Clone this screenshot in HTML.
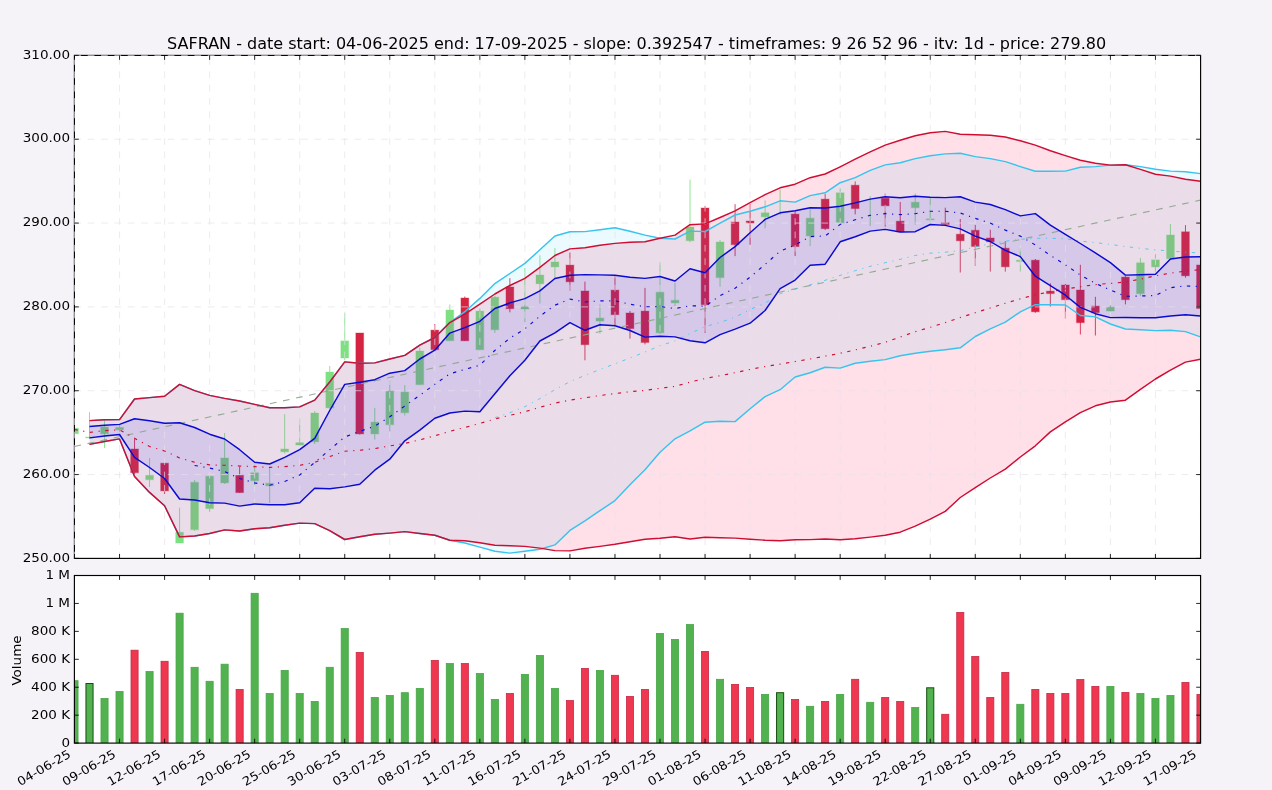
<!DOCTYPE html>
<html lang="en"><head><meta charset="utf-8"><title>SAFRAN chart</title>
<style>html,body{margin:0;padding:0;background:#f5f3f7;}body{width:1272px;height:790px;overflow:hidden;}svg{display:block;}text{font-family:"DejaVu Sans", "Liberation Sans", sans-serif;fill:#000;}</style></head><body>
<svg width="1272" height="790" viewBox="0 0 1272 790">
<rect x="0" y="0" width="1272" height="790" fill="#f5f3f7"/>
<defs><clipPath id="cm"><rect x="74.4" y="55.4" width="1126.2" height="503"/></clipPath>
<clipPath id="cv"><rect x="74.4" y="575.5" width="1126.2" height="167.6"/></clipPath></defs>
<rect x="74.4" y="55.4" width="1126.2" height="503" fill="#fff"/>
<rect x="74.4" y="575.5" width="1126.2" height="167.6" fill="#fff"/>
<g clip-path="url(#cm)">
<g>
<line x1="74.5" y1="426" x2="74.5" y2="436" stroke="#7de182" stroke-width="0.85"/>
<rect x="70.6" y="428.2" width="7.8" height="5.5" fill="#7de182" stroke="#7de182" stroke-width="1.2" stroke-opacity="0.3"/>
<line x1="89.51" y1="412.1" x2="89.51" y2="439" stroke="#7de182" stroke-width="0.85"/>
<rect x="85.61" y="437" width="7.8" height="0.9" fill="#7de182" stroke="#7de182" stroke-width="1.2" stroke-opacity="0.3"/>
<line x1="104.53" y1="420" x2="104.53" y2="448" stroke="#7de182" stroke-width="0.85"/>
<rect x="100.63" y="427" width="7.8" height="6.8" fill="#7de182" stroke="#7de182" stroke-width="1.2" stroke-opacity="0.3"/>
<line x1="119.54" y1="424" x2="119.54" y2="436" stroke="#7de182" stroke-width="0.85"/>
<rect x="115.64" y="427.4" width="7.8" height="2.4" fill="#7de182" stroke="#7de182" stroke-width="1.2" stroke-opacity="0.3"/>
<line x1="134.55" y1="439" x2="134.55" y2="474" stroke="#d52342" stroke-width="0.85"/>
<rect x="130.65" y="449" width="7.8" height="23.7" fill="#d52342" stroke="#d52342" stroke-width="1.2" stroke-opacity="0.3"/>
<line x1="149.56" y1="458" x2="149.56" y2="487" stroke="#7de182" stroke-width="0.85"/>
<rect x="145.66" y="475.3" width="7.8" height="4.4" fill="#7de182" stroke="#7de182" stroke-width="1.2" stroke-opacity="0.3"/>
<line x1="164.58" y1="463" x2="164.58" y2="494" stroke="#d52342" stroke-width="0.85"/>
<rect x="160.68" y="463.2" width="7.8" height="27.7" fill="#d52342" stroke="#d52342" stroke-width="1.2" stroke-opacity="0.3"/>
<line x1="179.59" y1="507.6" x2="179.59" y2="543" stroke="#7de182" stroke-width="0.85"/>
<rect x="175.69" y="532.3" width="7.8" height="10.7" fill="#7de182" stroke="#7de182" stroke-width="1.2" stroke-opacity="0.3"/>
<line x1="194.6" y1="480" x2="194.6" y2="531" stroke="#7de182" stroke-width="0.85"/>
<rect x="190.7" y="482.3" width="7.8" height="47.4" fill="#7de182" stroke="#7de182" stroke-width="1.2" stroke-opacity="0.3"/>
<line x1="209.62" y1="474" x2="209.62" y2="512" stroke="#7de182" stroke-width="0.85"/>
<rect x="205.72" y="476.2" width="7.8" height="32.4" fill="#7de182" stroke="#7de182" stroke-width="1.2" stroke-opacity="0.3"/>
<line x1="224.63" y1="433" x2="224.63" y2="484" stroke="#7de182" stroke-width="0.85"/>
<rect x="220.73" y="458" width="7.8" height="24.9" fill="#7de182" stroke="#7de182" stroke-width="1.2" stroke-opacity="0.3"/>
<line x1="239.64" y1="466.4" x2="239.64" y2="493" stroke="#d52342" stroke-width="0.85"/>
<rect x="235.74" y="475.3" width="7.8" height="17.3" fill="#d52342" stroke="#d52342" stroke-width="1.2" stroke-opacity="0.3"/>
<line x1="254.66" y1="463" x2="254.66" y2="485.4" stroke="#7de182" stroke-width="0.85"/>
<rect x="250.76" y="472.8" width="7.8" height="7.9" fill="#7de182" stroke="#7de182" stroke-width="1.2" stroke-opacity="0.3"/>
<line x1="269.67" y1="467" x2="269.67" y2="503.1" stroke="#7de182" stroke-width="0.85"/>
<rect x="265.77" y="483.3" width="7.8" height="2.5" fill="#7de182" stroke="#7de182" stroke-width="1.2" stroke-opacity="0.3"/>
<line x1="284.68" y1="414.2" x2="284.68" y2="453.5" stroke="#7de182" stroke-width="0.85"/>
<rect x="280.78" y="449" width="7.8" height="2.8" fill="#7de182" stroke="#7de182" stroke-width="1.2" stroke-opacity="0.3"/>
<line x1="299.69" y1="418.7" x2="299.69" y2="446" stroke="#7de182" stroke-width="0.85"/>
<rect x="295.8" y="442.7" width="7.8" height="2.3" fill="#7de182" stroke="#7de182" stroke-width="1.2" stroke-opacity="0.3"/>
<line x1="314.71" y1="411" x2="314.71" y2="444" stroke="#7de182" stroke-width="0.85"/>
<rect x="310.81" y="413" width="7.8" height="28.7" fill="#7de182" stroke="#7de182" stroke-width="1.2" stroke-opacity="0.3"/>
<line x1="329.72" y1="366" x2="329.72" y2="409" stroke="#7de182" stroke-width="0.85"/>
<rect x="325.82" y="372" width="7.8" height="35.9" fill="#7de182" stroke="#7de182" stroke-width="1.2" stroke-opacity="0.3"/>
<line x1="344.73" y1="312.8" x2="344.73" y2="360.3" stroke="#7de182" stroke-width="0.85"/>
<rect x="340.83" y="340.9" width="7.8" height="17.1" fill="#7de182" stroke="#7de182" stroke-width="1.2" stroke-opacity="0.3"/>
<line x1="359.75" y1="333" x2="359.75" y2="434.5" stroke="#d52342" stroke-width="0.85"/>
<rect x="355.85" y="333" width="7.8" height="100.9" fill="#d52342" stroke="#d52342" stroke-width="1.2" stroke-opacity="0.3"/>
<line x1="374.76" y1="407.9" x2="374.76" y2="439.6" stroke="#7de182" stroke-width="0.85"/>
<rect x="370.86" y="422.1" width="7.8" height="11.8" fill="#7de182" stroke="#7de182" stroke-width="1.2" stroke-opacity="0.3"/>
<line x1="389.77" y1="380" x2="389.77" y2="431.3" stroke="#7de182" stroke-width="0.85"/>
<rect x="385.87" y="391.1" width="7.8" height="33.6" fill="#7de182" stroke="#7de182" stroke-width="1.2" stroke-opacity="0.3"/>
<line x1="404.79" y1="385" x2="404.79" y2="415.5" stroke="#7de182" stroke-width="0.85"/>
<rect x="400.89" y="392.1" width="7.8" height="20.6" fill="#7de182" stroke="#7de182" stroke-width="1.2" stroke-opacity="0.3"/>
<line x1="419.8" y1="347.6" x2="419.8" y2="385" stroke="#7de182" stroke-width="0.85"/>
<rect x="415.9" y="351" width="7.8" height="33.6" fill="#7de182" stroke="#7de182" stroke-width="1.2" stroke-opacity="0.3"/>
<line x1="434.81" y1="324" x2="434.81" y2="350.5" stroke="#d52342" stroke-width="0.85"/>
<rect x="430.91" y="330.1" width="7.8" height="19.6" fill="#d52342" stroke="#d52342" stroke-width="1.2" stroke-opacity="0.3"/>
<line x1="449.82" y1="304.5" x2="449.82" y2="341" stroke="#7de182" stroke-width="0.85"/>
<rect x="445.93" y="310" width="7.8" height="30.7" fill="#7de182" stroke="#7de182" stroke-width="1.2" stroke-opacity="0.3"/>
<line x1="464.84" y1="296.5" x2="464.84" y2="341" stroke="#d52342" stroke-width="0.85"/>
<rect x="460.94" y="298" width="7.8" height="42.8" fill="#d52342" stroke="#d52342" stroke-width="1.2" stroke-opacity="0.3"/>
<line x1="479.85" y1="308.5" x2="479.85" y2="350" stroke="#7de182" stroke-width="0.85"/>
<rect x="475.95" y="311.1" width="7.8" height="38.6" fill="#7de182" stroke="#7de182" stroke-width="1.2" stroke-opacity="0.3"/>
<line x1="494.86" y1="296" x2="494.86" y2="332.9" stroke="#7de182" stroke-width="0.85"/>
<rect x="490.96" y="297.2" width="7.8" height="32.5" fill="#7de182" stroke="#7de182" stroke-width="1.2" stroke-opacity="0.3"/>
<line x1="509.88" y1="278.2" x2="509.88" y2="312.3" stroke="#d52342" stroke-width="0.85"/>
<rect x="505.98" y="287" width="7.8" height="21.7" fill="#d52342" stroke="#d52342" stroke-width="1.2" stroke-opacity="0.3"/>
<line x1="524.89" y1="268" x2="524.89" y2="322" stroke="#7de182" stroke-width="0.85"/>
<rect x="520.99" y="306.8" width="7.8" height="2.2" fill="#7de182" stroke="#7de182" stroke-width="1.2" stroke-opacity="0.3"/>
<line x1="539.9" y1="255.2" x2="539.9" y2="303.5" stroke="#7de182" stroke-width="0.85"/>
<rect x="536" y="275" width="7.8" height="8.8" fill="#7de182" stroke="#7de182" stroke-width="1.2" stroke-opacity="0.3"/>
<line x1="554.92" y1="248" x2="554.92" y2="279" stroke="#7de182" stroke-width="0.85"/>
<rect x="551.02" y="262" width="7.8" height="4.9" fill="#7de182" stroke="#7de182" stroke-width="1.2" stroke-opacity="0.3"/>
<line x1="569.93" y1="252.5" x2="569.93" y2="291" stroke="#d52342" stroke-width="0.85"/>
<rect x="566.03" y="265.1" width="7.8" height="16.7" fill="#d52342" stroke="#d52342" stroke-width="1.2" stroke-opacity="0.3"/>
<line x1="584.94" y1="281.6" x2="584.94" y2="360.3" stroke="#d52342" stroke-width="0.85"/>
<rect x="581.04" y="291" width="7.8" height="53.7" fill="#d52342" stroke="#d52342" stroke-width="1.2" stroke-opacity="0.3"/>
<line x1="599.96" y1="304.6" x2="599.96" y2="333.7" stroke="#7de182" stroke-width="0.85"/>
<rect x="596.06" y="318.1" width="7.8" height="2.9" fill="#7de182" stroke="#7de182" stroke-width="1.2" stroke-opacity="0.3"/>
<line x1="614.97" y1="275.3" x2="614.97" y2="325.4" stroke="#d52342" stroke-width="0.85"/>
<rect x="611.07" y="290.1" width="7.8" height="24.6" fill="#d52342" stroke="#d52342" stroke-width="1.2" stroke-opacity="0.3"/>
<line x1="629.98" y1="310.9" x2="629.98" y2="338.7" stroke="#d52342" stroke-width="0.85"/>
<rect x="626.08" y="313" width="7.8" height="15.6" fill="#d52342" stroke="#d52342" stroke-width="1.2" stroke-opacity="0.3"/>
<line x1="644.99" y1="287.9" x2="644.99" y2="344.4" stroke="#d52342" stroke-width="0.85"/>
<rect x="641.09" y="311.1" width="7.8" height="31.4" fill="#d52342" stroke="#d52342" stroke-width="1.2" stroke-opacity="0.3"/>
<line x1="660.01" y1="262" x2="660.01" y2="334" stroke="#7de182" stroke-width="0.85"/>
<rect x="656.11" y="292.2" width="7.8" height="40.6" fill="#7de182" stroke="#7de182" stroke-width="1.2" stroke-opacity="0.3"/>
<line x1="675.02" y1="283" x2="675.02" y2="306" stroke="#7de182" stroke-width="0.85"/>
<rect x="671.12" y="300.3" width="7.8" height="2.6" fill="#7de182" stroke="#7de182" stroke-width="1.2" stroke-opacity="0.3"/>
<line x1="690.03" y1="179.6" x2="690.03" y2="242.2" stroke="#7de182" stroke-width="0.85"/>
<rect x="686.13" y="227" width="7.8" height="13.7" fill="#7de182" stroke="#7de182" stroke-width="1.2" stroke-opacity="0.3"/>
<line x1="705.05" y1="206" x2="705.05" y2="332.9" stroke="#d52342" stroke-width="0.85"/>
<rect x="701.15" y="208" width="7.8" height="96.7" fill="#d52342" stroke="#d52342" stroke-width="1.2" stroke-opacity="0.3"/>
<line x1="720.06" y1="240" x2="720.06" y2="286.7" stroke="#7de182" stroke-width="0.85"/>
<rect x="716.16" y="242" width="7.8" height="35.6" fill="#7de182" stroke="#7de182" stroke-width="1.2" stroke-opacity="0.3"/>
<line x1="735.07" y1="204.2" x2="735.07" y2="256.1" stroke="#d52342" stroke-width="0.85"/>
<rect x="731.17" y="222" width="7.8" height="22.7" fill="#d52342" stroke="#d52342" stroke-width="1.2" stroke-opacity="0.3"/>
<line x1="750.09" y1="204.2" x2="750.09" y2="244.7" stroke="#d52342" stroke-width="0.85"/>
<rect x="746.19" y="221" width="7.8" height="2" fill="#d52342" stroke="#d52342" stroke-width="1.2" stroke-opacity="0.3"/>
<line x1="765.1" y1="200.4" x2="765.1" y2="228.3" stroke="#7de182" stroke-width="0.85"/>
<rect x="761.2" y="212.8" width="7.8" height="4.1" fill="#7de182" stroke="#7de182" stroke-width="1.2" stroke-opacity="0.3"/>
<line x1="780.11" y1="189.7" x2="780.11" y2="215" stroke="#7de182" stroke-width="0.85"/>
<line x1="795.12" y1="210.5" x2="795.12" y2="256" stroke="#d52342" stroke-width="0.85"/>
<rect x="791.22" y="214.1" width="7.8" height="32.5" fill="#d52342" stroke="#d52342" stroke-width="1.2" stroke-opacity="0.3"/>
<line x1="810.14" y1="209.3" x2="810.14" y2="246" stroke="#7de182" stroke-width="0.85"/>
<rect x="806.24" y="218.2" width="7.8" height="17.7" fill="#7de182" stroke="#7de182" stroke-width="1.2" stroke-opacity="0.3"/>
<line x1="825.15" y1="194" x2="825.15" y2="230" stroke="#d52342" stroke-width="0.85"/>
<rect x="821.25" y="199.1" width="7.8" height="29.6" fill="#d52342" stroke="#d52342" stroke-width="1.2" stroke-opacity="0.3"/>
<line x1="840.16" y1="188.4" x2="840.16" y2="224" stroke="#7de182" stroke-width="0.85"/>
<rect x="836.26" y="192.8" width="7.8" height="30" fill="#7de182" stroke="#7de182" stroke-width="1.2" stroke-opacity="0.3"/>
<line x1="855.18" y1="181.4" x2="855.18" y2="214.4" stroke="#d52342" stroke-width="0.85"/>
<rect x="851.28" y="185.2" width="7.8" height="23.4" fill="#d52342" stroke="#d52342" stroke-width="1.2" stroke-opacity="0.3"/>
<line x1="870.19" y1="196" x2="870.19" y2="226" stroke="#7de182" stroke-width="0.85"/>
<line x1="885.2" y1="193.4" x2="885.2" y2="226.6" stroke="#d52342" stroke-width="0.85"/>
<rect x="881.3" y="198.2" width="7.8" height="7.6" fill="#d52342" stroke="#d52342" stroke-width="1.2" stroke-opacity="0.3"/>
<line x1="900.22" y1="202" x2="900.22" y2="232" stroke="#d52342" stroke-width="0.85"/>
<rect x="896.32" y="221.2" width="7.8" height="10.5" fill="#d52342" stroke="#d52342" stroke-width="1.2" stroke-opacity="0.3"/>
<line x1="915.23" y1="193.4" x2="915.23" y2="224.7" stroke="#7de182" stroke-width="0.85"/>
<rect x="911.33" y="202.2" width="7.8" height="5.5" fill="#7de182" stroke="#7de182" stroke-width="1.2" stroke-opacity="0.3"/>
<line x1="930.24" y1="197" x2="930.24" y2="224" stroke="#7de182" stroke-width="0.85"/>
<rect x="926.34" y="218.9" width="7.8" height="0.9" fill="#7de182" stroke="#7de182" stroke-width="1.2" stroke-opacity="0.3"/>
<line x1="945.25" y1="207.7" x2="945.25" y2="225" stroke="#d52342" stroke-width="0.85"/>
<rect x="941.35" y="222.8" width="7.8" height="1.6" fill="#d52342" stroke="#d52342" stroke-width="1.2" stroke-opacity="0.3"/>
<line x1="960.27" y1="219" x2="960.27" y2="272.5" stroke="#d52342" stroke-width="0.85"/>
<rect x="956.37" y="234.2" width="7.8" height="6.6" fill="#d52342" stroke="#d52342" stroke-width="1.2" stroke-opacity="0.3"/>
<line x1="975.28" y1="224.7" x2="975.28" y2="265.6" stroke="#d52342" stroke-width="0.85"/>
<rect x="971.38" y="230.3" width="7.8" height="16.2" fill="#d52342" stroke="#d52342" stroke-width="1.2" stroke-opacity="0.3"/>
<line x1="990.29" y1="229.8" x2="990.29" y2="271.6" stroke="#d52342" stroke-width="0.85"/>
<rect x="986.39" y="238" width="7.8" height="3.8" fill="#d52342" stroke="#d52342" stroke-width="1.2" stroke-opacity="0.3"/>
<line x1="1005.31" y1="241.2" x2="1005.31" y2="271.6" stroke="#d52342" stroke-width="0.85"/>
<rect x="1001.41" y="248.2" width="7.8" height="18.6" fill="#d52342" stroke="#d52342" stroke-width="1.2" stroke-opacity="0.3"/>
<line x1="1020.32" y1="248.2" x2="1020.32" y2="271.6" stroke="#7de182" stroke-width="0.85"/>
<rect x="1016.42" y="260.2" width="7.8" height="1.3" fill="#7de182" stroke="#7de182" stroke-width="1.2" stroke-opacity="0.3"/>
<line x1="1035.33" y1="259" x2="1035.33" y2="312.8" stroke="#d52342" stroke-width="0.85"/>
<rect x="1031.43" y="260.2" width="7.8" height="51.6" fill="#d52342" stroke="#d52342" stroke-width="1.2" stroke-opacity="0.3"/>
<line x1="1050.35" y1="283.2" x2="1050.35" y2="306.9" stroke="#d52342" stroke-width="0.85"/>
<rect x="1046.44" y="291.1" width="7.8" height="2.5" fill="#d52342" stroke="#d52342" stroke-width="1.2" stroke-opacity="0.3"/>
<line x1="1065.36" y1="284" x2="1065.36" y2="318.4" stroke="#d52342" stroke-width="0.85"/>
<rect x="1061.46" y="285" width="7.8" height="14.7" fill="#d52342" stroke="#d52342" stroke-width="1.2" stroke-opacity="0.3"/>
<line x1="1080.37" y1="264.8" x2="1080.37" y2="334.5" stroke="#d52342" stroke-width="0.85"/>
<rect x="1076.47" y="290" width="7.8" height="32.7" fill="#d52342" stroke="#d52342" stroke-width="1.2" stroke-opacity="0.3"/>
<line x1="1095.38" y1="296.8" x2="1095.38" y2="335.5" stroke="#d52342" stroke-width="0.85"/>
<rect x="1091.48" y="306.1" width="7.8" height="6.5" fill="#d52342" stroke="#d52342" stroke-width="1.2" stroke-opacity="0.3"/>
<line x1="1110.4" y1="305.3" x2="1110.4" y2="311.5" stroke="#7de182" stroke-width="0.85"/>
<rect x="1106.5" y="307.2" width="7.8" height="3.8" fill="#7de182" stroke="#7de182" stroke-width="1.2" stroke-opacity="0.3"/>
<line x1="1125.41" y1="275.8" x2="1125.41" y2="304.4" stroke="#d52342" stroke-width="0.85"/>
<rect x="1121.51" y="277.1" width="7.8" height="22.6" fill="#d52342" stroke="#d52342" stroke-width="1.2" stroke-opacity="0.3"/>
<line x1="1140.42" y1="258" x2="1140.42" y2="296" stroke="#7de182" stroke-width="0.85"/>
<rect x="1136.52" y="262.8" width="7.8" height="30.9" fill="#7de182" stroke="#7de182" stroke-width="1.2" stroke-opacity="0.3"/>
<line x1="1155.44" y1="254.2" x2="1155.44" y2="272.6" stroke="#7de182" stroke-width="0.85"/>
<rect x="1151.54" y="259.9" width="7.8" height="7" fill="#7de182" stroke="#7de182" stroke-width="1.2" stroke-opacity="0.3"/>
<line x1="1170.45" y1="224.1" x2="1170.45" y2="258.7" stroke="#7de182" stroke-width="0.85"/>
<rect x="1166.55" y="235" width="7.8" height="23.7" fill="#7de182" stroke="#7de182" stroke-width="1.2" stroke-opacity="0.3"/>
<line x1="1185.46" y1="225.1" x2="1185.46" y2="277.7" stroke="#d52342" stroke-width="0.85"/>
<rect x="1181.56" y="231.8" width="7.8" height="44" fill="#d52342" stroke="#d52342" stroke-width="1.2" stroke-opacity="0.3"/>
<line x1="1200.47" y1="263" x2="1200.47" y2="310" stroke="#d52342" stroke-width="0.85"/>
<rect x="1196.57" y="265" width="7.8" height="43.5" fill="#d52342" stroke="#d52342" stroke-width="1.2" stroke-opacity="0.3"/>
</g>
<polygon points="89.51,420.6 104.53,419.8 119.54,419.6 134.55,399 149.56,397.6 164.58,396.2 179.59,384.4 194.6,390.6 209.62,395.4 224.63,398.4 239.64,401 254.66,404.4 269.67,407.7 284.68,407.7 299.69,406.9 314.71,400.1 329.72,382 344.73,361.9 359.75,363.2 374.76,362.9 389.77,359 404.79,355.4 419.8,345.1 434.81,337.5 449.82,322.6 464.84,314.2 479.85,304.1 494.86,294 509.88,285.5 524.89,278.4 539.9,267.4 554.92,255.5 569.93,248.9 584.94,247.7 599.96,245.3 614.97,243.4 629.98,242.3 644.99,241.7 660.01,238.2 675.02,235.1 690.03,224.7 705.05,223.9 720.06,217.5 735.07,210.8 750.09,202.7 765.1,194.7 780.11,187.8 795.12,184.2 810.14,177.7 825.15,174 840.16,166.8 855.18,159.2 870.19,151.9 885.2,145.1 900.22,140.3 915.23,135.8 930.24,132.7 945.25,131.4 960.27,134.3 975.28,134.8 990.29,135.3 1005.31,137 1020.32,140.8 1035.33,145.1 1050.35,150.8 1065.36,155.6 1080.37,160.3 1095.38,163.2 1110.4,165.1 1125.41,164.7 1140.42,169.4 1155.44,174.2 1170.45,176.1 1185.46,179.3 1200.47,181.2 1200.47,359.2 1185.46,362.1 1170.45,370.2 1155.44,379 1140.42,389.4 1125.41,400.2 1110.4,402 1095.38,405.8 1080.37,412.7 1065.36,421.8 1050.35,431.9 1035.33,445.8 1020.32,457 1005.31,469.1 990.29,478 975.28,487.6 960.27,497.5 945.25,511.4 930.24,519.2 915.23,526.1 900.22,532.2 885.2,535.2 870.19,537.1 855.18,538.7 840.16,539.8 825.15,539 810.14,539.6 795.12,539.8 780.11,540.8 765.1,540.2 750.09,539.2 735.07,538.1 720.06,537.7 705.05,537.3 690.03,539 675.02,536.7 660.01,538.2 644.99,539.2 629.98,541.7 614.97,544.3 599.96,546.4 584.94,548.3 569.93,550.9 554.92,550.6 539.9,548.1 524.89,546.4 509.88,545.8 494.86,545.3 479.85,542.8 464.84,540.7 449.82,540.2 434.81,535.2 419.8,533.5 404.79,531.6 389.77,533.1 374.76,534.3 359.75,536.7 344.73,539.5 329.72,530.7 314.71,523.6 299.69,523.1 284.68,525.3 269.67,527.8 254.66,528.7 239.64,531 224.63,529.9 209.62,533.5 194.6,536 179.59,536.9 164.58,505.7 149.56,492.4 134.55,476.5 119.54,438.9 104.53,441.5 89.51,444.4" fill="#ff0048" fill-opacity="0.12"/>
<polygon points="89.51,420.6 104.53,419.8 119.54,419.6 134.55,399 149.56,397.6 164.58,396.2 179.59,384.4 194.6,390.6 209.62,395.4 224.63,398.4 239.64,401 254.66,404.4 269.67,407.7 284.68,407.7 299.69,406.9 314.71,400.1 329.72,382 344.73,361.9 359.75,363.2 374.76,362.9 389.77,359 404.79,355.4 419.8,345.1 434.81,337.5 449.82,322.6 464.84,311.7 479.85,298.4 494.86,283.6 509.88,273.5 524.89,263.4 539.9,249.8 554.92,236 569.93,231.8 584.94,231.6 599.96,229.7 614.97,227.8 629.98,231.2 644.99,235.1 660.01,238.2 675.02,239 690.03,231.1 705.05,231.5 720.06,223.2 735.07,215 750.09,211.2 765.1,206.8 780.11,200.8 795.12,202.1 810.14,195.6 825.15,192.8 840.16,182.7 855.18,177.6 870.19,170.4 885.2,164.9 900.22,162.8 915.23,158.6 930.24,155.7 945.25,153.9 960.27,153.2 975.28,156.6 990.29,158.6 1005.31,161.6 1020.32,166.6 1035.33,171.3 1050.35,171.3 1065.36,171.1 1080.37,167.3 1095.38,166.6 1110.4,165.1 1125.41,164.7 1140.42,166.6 1155.44,169.2 1170.45,171.1 1185.46,171.7 1200.47,173.6 1200.47,336.9 1185.46,331.6 1170.45,330.3 1155.44,330.6 1140.42,329.8 1125.41,329 1110.4,324 1095.38,316.9 1080.37,315.5 1065.36,305 1050.35,304.8 1035.33,304.7 1020.32,311.8 1005.31,322.2 990.29,328.9 975.28,336.5 960.27,347.8 945.25,349.7 930.24,351.3 915.23,353.2 900.22,355.7 885.2,359.6 870.19,361.3 855.18,363.2 840.16,368.1 825.15,367.2 810.14,372.7 795.12,377 780.11,389.7 765.1,396.6 750.09,408.7 735.07,421.6 720.06,421.3 705.05,422.2 690.03,430.8 675.02,438.8 660.01,452.2 644.99,469.8 629.98,484.8 614.97,500.6 599.96,510.7 584.94,520.9 569.93,530.4 554.92,544.9 539.9,549.3 524.89,551.2 509.88,553.1 494.86,551.2 479.85,547.1 464.84,543 449.82,540.2 434.81,535.2 419.8,533.5 404.79,531.6 389.77,533.1 374.76,534.3 359.75,536.7 344.73,539.5 329.72,530.7 314.71,523.6 299.69,523.1 284.68,525.3 269.67,527.8 254.66,528.7 239.64,531 224.63,529.9 209.62,533.5 194.6,536 179.59,536.9 164.58,505.7 149.56,492.4 134.55,476.5 119.54,438.9 104.53,441.5 89.51,444.4" fill="#00c8f5" fill-opacity="0.082"/>
<polygon points="89.51,426.5 104.53,425.3 119.54,424.4 134.55,418.7 149.56,420.8 164.58,423.2 179.59,422.8 194.6,427.5 209.62,434.2 224.63,439 239.64,449.7 254.66,462.3 269.67,464 284.68,457.3 299.69,449.7 314.71,438.3 329.72,410.5 344.73,384.4 359.75,382.2 374.76,379.7 389.77,373.2 404.79,370.6 419.8,359 434.81,350.2 449.82,333.1 464.84,327.6 479.85,321.3 494.86,308.5 509.88,302.9 524.89,298.6 539.9,290.9 554.92,278.5 569.93,275.3 584.94,274.6 599.96,274.9 614.97,275.3 629.98,277.2 644.99,278.4 660.01,276.5 675.02,281 690.03,268.7 705.05,272.8 720.06,257.5 735.07,246.6 750.09,232.7 765.1,219.4 780.11,212.8 795.12,210.8 810.14,207.8 825.15,208 840.16,206.3 855.18,202.9 870.19,199.1 885.2,196.8 900.22,197.8 915.23,196.3 930.24,197.2 945.25,197.6 960.27,196.7 975.28,202.1 990.29,204.5 1005.31,209.6 1020.32,215.9 1035.33,213.6 1050.35,225.1 1065.36,234.3 1080.37,243.5 1095.38,252.9 1110.4,262.6 1125.41,275.1 1140.42,274.7 1155.44,274.2 1170.45,259 1185.46,257 1200.47,256.8 1200.47,316 1185.46,314.7 1170.45,316 1155.44,317.7 1140.42,317.7 1125.41,317.5 1110.4,317.6 1095.38,313.7 1080.37,307.4 1065.36,295.2 1050.35,285.6 1035.33,276.2 1020.32,256.6 1005.31,250.4 990.29,241.5 975.28,236.1 960.27,228.9 945.25,225.4 930.24,224.5 915.23,231.7 900.22,232 885.2,229.4 870.19,231.1 855.18,236.8 840.16,241.8 825.15,264.2 810.14,265.2 795.12,280.1 780.11,288.6 765.1,310.5 750.09,323.2 735.07,329.1 720.06,334.6 705.05,342.8 690.03,340.8 675.02,336.9 660.01,336.2 644.99,337.1 629.98,330.5 614.97,325.8 599.96,324.8 584.94,330.3 569.93,322.7 554.92,332.9 539.9,341 524.89,360.3 509.88,375.8 494.86,393.7 479.85,411.7 464.84,411.1 449.82,413 434.81,418.3 419.8,430.1 404.79,440.8 389.77,459.2 374.76,470.2 359.75,484.2 344.73,486.9 329.72,488.8 314.71,488.3 299.69,502.8 284.68,504.8 269.67,504.8 254.66,504 239.64,506.1 224.63,503.1 209.62,502.8 194.6,500 179.59,499 164.58,478.5 149.56,467.5 134.55,457.3 119.54,434.5 104.53,436 89.51,437.9" fill="#1400e6" fill-opacity="0.095"/>
<g stroke="#e7e0ea" stroke-width="0.68" stroke-dasharray="6.67,6.67" fill="none">
<line x1="74.5" y1="558.4" x2="74.5" y2="55.4"/>
<line x1="119.54" y1="558.4" x2="119.54" y2="55.4"/>
<line x1="164.58" y1="558.4" x2="164.58" y2="55.4"/>
<line x1="209.62" y1="558.4" x2="209.62" y2="55.4"/>
<line x1="254.66" y1="558.4" x2="254.66" y2="55.4"/>
<line x1="299.69" y1="558.4" x2="299.69" y2="55.4"/>
<line x1="344.73" y1="558.4" x2="344.73" y2="55.4"/>
<line x1="389.77" y1="558.4" x2="389.77" y2="55.4"/>
<line x1="434.81" y1="558.4" x2="434.81" y2="55.4"/>
<line x1="479.85" y1="558.4" x2="479.85" y2="55.4"/>
<line x1="524.89" y1="558.4" x2="524.89" y2="55.4"/>
<line x1="569.93" y1="558.4" x2="569.93" y2="55.4"/>
<line x1="614.97" y1="558.4" x2="614.97" y2="55.4"/>
<line x1="660.01" y1="558.4" x2="660.01" y2="55.4"/>
<line x1="705.05" y1="558.4" x2="705.05" y2="55.4"/>
<line x1="750.09" y1="558.4" x2="750.09" y2="55.4"/>
<line x1="795.12" y1="558.4" x2="795.12" y2="55.4"/>
<line x1="840.16" y1="558.4" x2="840.16" y2="55.4"/>
<line x1="885.2" y1="558.4" x2="885.2" y2="55.4"/>
<line x1="930.24" y1="558.4" x2="930.24" y2="55.4"/>
<line x1="975.28" y1="558.4" x2="975.28" y2="55.4"/>
<line x1="1020.32" y1="558.4" x2="1020.32" y2="55.4"/>
<line x1="1065.36" y1="558.4" x2="1065.36" y2="55.4"/>
<line x1="1110.4" y1="558.4" x2="1110.4" y2="55.4"/>
<line x1="1155.44" y1="558.4" x2="1155.44" y2="55.4"/>
<line x1="1200.47" y1="558.4" x2="1200.47" y2="55.4"/>
<line x1="74.4" y1="55.4" x2="1200.6" y2="55.4"/>
<line x1="74.4" y1="139.23" x2="1200.6" y2="139.23"/>
<line x1="74.4" y1="223.07" x2="1200.6" y2="223.07"/>
<line x1="74.4" y1="306.9" x2="1200.6" y2="306.9"/>
<line x1="74.4" y1="390.73" x2="1200.6" y2="390.73"/>
<line x1="74.4" y1="474.57" x2="1200.6" y2="474.57"/>
<line x1="74.4" y1="558.4" x2="1200.6" y2="558.4"/>
</g>
<line x1="74.5" y1="446.5" x2="1200.47" y2="200.1" stroke="#8fa58f" stroke-width="1.1" stroke-opacity="0.95" stroke-dasharray="6.67,6.67"/>
<polyline points="494.86,417.8 509.88,412.7 524.89,406.7 539.9,398.6 554.92,389.7 569.93,381.7 584.94,375.3 599.96,369.5 614.97,363.8 629.98,358 644.99,352 660.01,345.7 675.02,340.9 690.03,333.5 705.05,326.6 720.06,322.4 735.07,317.3 750.09,309.5 765.1,303.2 780.11,293.7 795.12,289.2 810.14,284.8 825.15,280.3 840.16,275.4 855.18,270.7 870.19,266.3 885.2,262.7 900.22,259.3 915.23,255.5 930.24,253.2 945.25,252.2 960.27,250.7 975.28,246.9 990.29,243.7 1005.31,241.2 1020.32,239.3 1035.33,238.3 1050.35,238.3 1065.36,238.7 1080.37,241.1 1095.38,242.6 1110.4,244.4 1125.41,246.5 1140.42,248.3 1155.44,249.9 1170.45,251 1185.46,252.1 1200.47,253.1" fill="none" stroke="#38c3ee" stroke-width="1.0" stroke-opacity="0.8" stroke-dasharray="3.33,5.56,1.11,5.56"/>
<polyline points="74.5,429.5 89.51,432.4 104.53,430.6 119.54,429.8 134.55,438.3 149.56,446.5 164.58,451 179.59,457.9 194.6,462.3 209.62,464.9 224.63,465.3 239.64,466 254.66,466.6 269.67,467.4 284.68,466.6 299.69,465.3 314.71,462.3 329.72,456.6 344.73,451.2 359.75,450.3 374.76,448.6 389.77,445.9 404.79,443.4 419.8,439.8 434.81,435.8 449.82,431.3 464.84,427.5 479.85,423.4 494.86,419 509.88,415.3 524.89,411.7 539.9,407.3 554.92,403.1 569.93,400.1 584.94,397.8 599.96,395.5 614.97,393.6 629.98,391.7 644.99,390.4 660.01,388.3 675.02,386.4 690.03,382.1 705.05,378.5 720.06,375.7 735.07,372.7 750.09,369.4 765.1,366.6 780.11,364.1 795.12,361.5 810.14,359 825.15,356.1 840.16,353.3 855.18,349.9 870.19,346.3 885.2,342.3 900.22,337 915.23,331.7 930.24,327.3 945.25,322.6 960.27,317.5 975.28,312.7 990.29,308 1005.31,303.2 1020.32,298.9 1035.33,294.7 1050.35,291.8 1065.36,289 1080.37,286.7 1095.38,284.6 1110.4,283.4 1125.41,282 1140.42,279.2 1155.44,275.8 1170.45,273.2 1185.46,271.1 1200.47,269.7" fill="none" stroke="#cf0c32" stroke-width="1.15" stroke-dasharray="3.33,5.56,1.11,5.56"/>
<polyline points="194.6,465.5 209.62,468 224.63,471.5 239.64,478.5 254.66,482.9 269.67,485.2 284.68,481.5 299.69,475 314.71,462.4 329.72,449.7 344.73,437 359.75,431.3 374.76,426.2 389.77,416.8 404.79,406 419.8,395.3 434.81,384.3 449.82,373.8 464.84,369.4 479.85,365.2 494.86,350.4 509.88,338.2 524.89,328.8 539.9,316.2 554.92,305.2 569.93,299.1 584.94,302 599.96,300.8 614.97,300.8 629.98,304.2 644.99,306.8 660.01,306.5 675.02,308.6 690.03,305.7 705.05,306.3 720.06,295.6 735.07,288.2 750.09,277.2 765.1,264.4 780.11,251.2 795.12,245 810.14,236.6 825.15,236 840.16,224.4 855.18,219.8 870.19,215.3 885.2,213.7 900.22,214.6 915.23,213.7 930.24,211.2 945.25,211.2 960.27,213 975.28,218.4 990.29,223.1 1005.31,230.1 1020.32,236.1 1035.33,245 1050.35,255.3 1065.36,264.8 1080.37,275 1095.38,283.4 1110.4,290 1125.41,296.3 1140.42,296 1155.44,295.5 1170.45,287.7 1185.46,285.9 1200.47,286.5" fill="none" stroke="#0a0ad2" stroke-width="1.15" stroke-dasharray="3.33,5.56,1.11,5.56"/>
<g fill="none" stroke-linejoin="round" stroke-width="1.45">
<polyline points="89.51,420.6 104.53,419.8 119.54,419.6 134.55,399 149.56,397.6 164.58,396.2 179.59,384.4 194.6,390.6 209.62,395.4 224.63,398.4 239.64,401 254.66,404.4 269.67,407.7 284.68,407.7 299.69,406.9 314.71,400.1 329.72,382 344.73,361.9 359.75,363.2 374.76,362.9 389.77,359 404.79,355.4 419.8,345.1 434.81,337.5 449.82,322.6 464.84,311.7 479.85,298.4 494.86,283.6 509.88,273.5 524.89,263.4 539.9,249.8 554.92,236 569.93,231.8 584.94,231.6 599.96,229.7 614.97,227.8 629.98,231.2 644.99,235.1 660.01,238.2 675.02,239 690.03,231.1 705.05,231.5 720.06,223.2 735.07,215 750.09,211.2 765.1,206.8 780.11,200.8 795.12,202.1 810.14,195.6 825.15,192.8 840.16,182.7 855.18,177.6 870.19,170.4 885.2,164.9 900.22,162.8 915.23,158.6 930.24,155.7 945.25,153.9 960.27,153.2 975.28,156.6 990.29,158.6 1005.31,161.6 1020.32,166.6 1035.33,171.3 1050.35,171.3 1065.36,171.1 1080.37,167.3 1095.38,166.6 1110.4,165.1 1125.41,164.7 1140.42,166.6 1155.44,169.2 1170.45,171.1 1185.46,171.7 1200.47,173.6" stroke="#38c3ee"/>
<polyline points="89.51,444.4 104.53,441.5 119.54,438.9 134.55,476.5 149.56,492.4 164.58,505.7 179.59,536.9 194.6,536 209.62,533.5 224.63,529.9 239.64,531 254.66,528.7 269.67,527.8 284.68,525.3 299.69,523.1 314.71,523.6 329.72,530.7 344.73,539.5 359.75,536.7 374.76,534.3 389.77,533.1 404.79,531.6 419.8,533.5 434.81,535.2 449.82,540.2 464.84,543 479.85,547.1 494.86,551.2 509.88,553.1 524.89,551.2 539.9,549.3 554.92,544.9 569.93,530.4 584.94,520.9 599.96,510.7 614.97,500.6 629.98,484.8 644.99,469.8 660.01,452.2 675.02,438.8 690.03,430.8 705.05,422.2 720.06,421.3 735.07,421.6 750.09,408.7 765.1,396.6 780.11,389.7 795.12,377 810.14,372.7 825.15,367.2 840.16,368.1 855.18,363.2 870.19,361.3 885.2,359.6 900.22,355.7 915.23,353.2 930.24,351.3 945.25,349.7 960.27,347.8 975.28,336.5 990.29,328.9 1005.31,322.2 1020.32,311.8 1035.33,304.7 1050.35,304.8 1065.36,305 1080.37,315.5 1095.38,316.9 1110.4,324 1125.41,329 1140.42,329.8 1155.44,330.6 1170.45,330.3 1185.46,331.6 1200.47,336.9" stroke="#38c3ee"/>
<polyline points="89.51,426.5 104.53,425.3 119.54,424.4 134.55,418.7 149.56,420.8 164.58,423.2 179.59,422.8 194.6,427.5 209.62,434.2 224.63,439 239.64,449.7 254.66,462.3 269.67,464 284.68,457.3 299.69,449.7 314.71,438.3 329.72,410.5 344.73,384.4 359.75,382.2 374.76,379.7 389.77,373.2 404.79,370.6 419.8,359 434.81,350.2 449.82,333.1 464.84,327.6 479.85,321.3 494.86,308.5 509.88,302.9 524.89,298.6 539.9,290.9 554.92,278.5 569.93,275.3 584.94,274.6 599.96,274.9 614.97,275.3 629.98,277.2 644.99,278.4 660.01,276.5 675.02,281 690.03,268.7 705.05,272.8 720.06,257.5 735.07,246.6 750.09,232.7 765.1,219.4 780.11,212.8 795.12,210.8 810.14,207.8 825.15,208 840.16,206.3 855.18,202.9 870.19,199.1 885.2,196.8 900.22,197.8 915.23,196.3 930.24,197.2 945.25,197.6 960.27,196.7 975.28,202.1 990.29,204.5 1005.31,209.6 1020.32,215.9 1035.33,213.6 1050.35,225.1 1065.36,234.3 1080.37,243.5 1095.38,252.9 1110.4,262.6 1125.41,275.1 1140.42,274.7 1155.44,274.2 1170.45,259 1185.46,257 1200.47,256.8" stroke="#0a0ad2"/>
<polyline points="89.51,437.9 104.53,436 119.54,434.5 134.55,457.3 149.56,467.5 164.58,478.5 179.59,499 194.6,500 209.62,502.8 224.63,503.1 239.64,506.1 254.66,504 269.67,504.8 284.68,504.8 299.69,502.8 314.71,488.3 329.72,488.8 344.73,486.9 359.75,484.2 374.76,470.2 389.77,459.2 404.79,440.8 419.8,430.1 434.81,418.3 449.82,413 464.84,411.1 479.85,411.7 494.86,393.7 509.88,375.8 524.89,360.3 539.9,341 554.92,332.9 569.93,322.7 584.94,330.3 599.96,324.8 614.97,325.8 629.98,330.5 644.99,337.1 660.01,336.2 675.02,336.9 690.03,340.8 705.05,342.8 720.06,334.6 735.07,329.1 750.09,323.2 765.1,310.5 780.11,288.6 795.12,280.1 810.14,265.2 825.15,264.2 840.16,241.8 855.18,236.8 870.19,231.1 885.2,229.4 900.22,232 915.23,231.7 930.24,224.5 945.25,225.4 960.27,228.9 975.28,236.1 990.29,241.5 1005.31,250.4 1020.32,256.6 1035.33,276.2 1050.35,285.6 1065.36,295.2 1080.37,307.4 1095.38,313.7 1110.4,317.6 1125.41,317.5 1140.42,317.7 1155.44,317.7 1170.45,316 1185.46,314.7 1200.47,316" stroke="#0a0ad2"/>
<polyline points="89.51,420.6 104.53,419.8 119.54,419.6 134.55,399 149.56,397.6 164.58,396.2 179.59,384.4 194.6,390.6 209.62,395.4 224.63,398.4 239.64,401 254.66,404.4 269.67,407.7 284.68,407.7 299.69,406.9 314.71,400.1 329.72,382 344.73,361.9 359.75,363.2 374.76,362.9 389.77,359 404.79,355.4 419.8,345.1 434.81,337.5 449.82,322.6 464.84,314.2 479.85,304.1 494.86,294 509.88,285.5 524.89,278.4 539.9,267.4 554.92,255.5 569.93,248.9 584.94,247.7 599.96,245.3 614.97,243.4 629.98,242.3 644.99,241.7 660.01,238.2 675.02,235.1 690.03,224.7 705.05,223.9 720.06,217.5 735.07,210.8 750.09,202.7 765.1,194.7 780.11,187.8 795.12,184.2 810.14,177.7 825.15,174 840.16,166.8 855.18,159.2 870.19,151.9 885.2,145.1 900.22,140.3 915.23,135.8 930.24,132.7 945.25,131.4 960.27,134.3 975.28,134.8 990.29,135.3 1005.31,137 1020.32,140.8 1035.33,145.1 1050.35,150.8 1065.36,155.6 1080.37,160.3 1095.38,163.2 1110.4,165.1 1125.41,164.7 1140.42,169.4 1155.44,174.2 1170.45,176.1 1185.46,179.3 1200.47,181.2" stroke="#cf0c32"/>
<polyline points="89.51,444.4 104.53,441.5 119.54,438.9 134.55,476.5 149.56,492.4 164.58,505.7 179.59,536.9 194.6,536 209.62,533.5 224.63,529.9 239.64,531 254.66,528.7 269.67,527.8 284.68,525.3 299.69,523.1 314.71,523.6 329.72,530.7 344.73,539.5 359.75,536.7 374.76,534.3 389.77,533.1 404.79,531.6 419.8,533.5 434.81,535.2 449.82,540.2 464.84,540.7 479.85,542.8 494.86,545.3 509.88,545.8 524.89,546.4 539.9,548.1 554.92,550.6 569.93,550.9 584.94,548.3 599.96,546.4 614.97,544.3 629.98,541.7 644.99,539.2 660.01,538.2 675.02,536.7 690.03,539 705.05,537.3 720.06,537.7 735.07,538.1 750.09,539.2 765.1,540.2 780.11,540.8 795.12,539.8 810.14,539.6 825.15,539 840.16,539.8 855.18,538.7 870.19,537.1 885.2,535.2 900.22,532.2 915.23,526.1 930.24,519.2 945.25,511.4 960.27,497.5 975.28,487.6 990.29,478 1005.31,469.1 1020.32,457 1035.33,445.8 1050.35,431.9 1065.36,421.8 1080.37,412.7 1095.38,405.8 1110.4,402 1125.41,400.2 1140.42,389.4 1155.44,379 1170.45,370.2 1185.46,362.1 1200.47,359.2" stroke="#cf0c32"/>
</g>
</g>
<g clip-path="url(#cv)">
<rect x="70.95" y="680.7" width="7.1" height="64.8" fill="#53b250" stroke="#46a546" stroke-width="0.8"/>
<rect x="85.96" y="683.5" width="7.1" height="62" fill="#53b250" stroke="#14500f" stroke-width="1.0"/>
<rect x="100.98" y="698.4" width="7.1" height="47.1" fill="#53b250" stroke="#46a546" stroke-width="0.8"/>
<rect x="115.99" y="691.5" width="7.1" height="54" fill="#53b250" stroke="#46a546" stroke-width="0.8"/>
<rect x="131" y="650.2" width="7.1" height="95.3" fill="#f03750" stroke="#c42a48" stroke-width="0.8"/>
<rect x="146.01" y="671.6" width="7.1" height="73.9" fill="#53b250" stroke="#46a546" stroke-width="0.8"/>
<rect x="161.03" y="661.3" width="7.1" height="84.2" fill="#f03750" stroke="#c42a48" stroke-width="0.8"/>
<rect x="176.04" y="613.2" width="7.1" height="132.3" fill="#53b250" stroke="#46a546" stroke-width="0.8"/>
<rect x="191.05" y="667.3" width="7.1" height="78.2" fill="#53b250" stroke="#46a546" stroke-width="0.8"/>
<rect x="206.07" y="681.3" width="7.1" height="64.2" fill="#53b250" stroke="#46a546" stroke-width="0.8"/>
<rect x="221.08" y="664.2" width="7.1" height="81.3" fill="#53b250" stroke="#46a546" stroke-width="0.8"/>
<rect x="236.09" y="689.5" width="7.1" height="56" fill="#f03750" stroke="#c42a48" stroke-width="0.8"/>
<rect x="251.11" y="593.3" width="7.1" height="152.2" fill="#53b250" stroke="#46a546" stroke-width="0.8"/>
<rect x="266.12" y="693.5" width="7.1" height="52" fill="#53b250" stroke="#46a546" stroke-width="0.8"/>
<rect x="281.13" y="670.4" width="7.1" height="75.1" fill="#53b250" stroke="#46a546" stroke-width="0.8"/>
<rect x="296.14" y="693.5" width="7.1" height="52" fill="#53b250" stroke="#46a546" stroke-width="0.8"/>
<rect x="311.16" y="701.5" width="7.1" height="44" fill="#53b250" stroke="#46a546" stroke-width="0.8"/>
<rect x="326.17" y="667.3" width="7.1" height="78.2" fill="#53b250" stroke="#46a546" stroke-width="0.8"/>
<rect x="341.18" y="628.6" width="7.1" height="116.9" fill="#53b250" stroke="#46a546" stroke-width="0.8"/>
<rect x="356.2" y="652.5" width="7.1" height="93" fill="#f03750" stroke="#c42a48" stroke-width="0.8"/>
<rect x="371.21" y="697.5" width="7.1" height="48" fill="#53b250" stroke="#46a546" stroke-width="0.8"/>
<rect x="386.22" y="695.5" width="7.1" height="50" fill="#53b250" stroke="#46a546" stroke-width="0.8"/>
<rect x="401.24" y="692.7" width="7.1" height="52.8" fill="#53b250" stroke="#46a546" stroke-width="0.8"/>
<rect x="416.25" y="688.4" width="7.1" height="57.1" fill="#53b250" stroke="#46a546" stroke-width="0.8"/>
<rect x="431.26" y="660.5" width="7.1" height="85" fill="#f03750" stroke="#c42a48" stroke-width="0.8"/>
<rect x="446.27" y="663.6" width="7.1" height="81.9" fill="#53b250" stroke="#46a546" stroke-width="0.8"/>
<rect x="461.29" y="663.6" width="7.1" height="81.9" fill="#f03750" stroke="#c42a48" stroke-width="0.8"/>
<rect x="476.3" y="673.6" width="7.1" height="71.9" fill="#53b250" stroke="#46a546" stroke-width="0.8"/>
<rect x="491.31" y="699.5" width="7.1" height="46" fill="#53b250" stroke="#46a546" stroke-width="0.8"/>
<rect x="506.33" y="693.5" width="7.1" height="52" fill="#f03750" stroke="#c42a48" stroke-width="0.8"/>
<rect x="521.34" y="674.4" width="7.1" height="71.1" fill="#53b250" stroke="#46a546" stroke-width="0.8"/>
<rect x="536.35" y="655.4" width="7.1" height="90.1" fill="#53b250" stroke="#46a546" stroke-width="0.8"/>
<rect x="551.37" y="688.4" width="7.1" height="57.1" fill="#53b250" stroke="#46a546" stroke-width="0.8"/>
<rect x="566.38" y="700.6" width="7.1" height="44.9" fill="#f03750" stroke="#c42a48" stroke-width="0.8"/>
<rect x="581.39" y="668.5" width="7.1" height="77" fill="#f03750" stroke="#c42a48" stroke-width="0.8"/>
<rect x="596.41" y="670.5" width="7.1" height="75" fill="#53b250" stroke="#46a546" stroke-width="0.8"/>
<rect x="611.42" y="675.3" width="7.1" height="70.2" fill="#f03750" stroke="#c42a48" stroke-width="0.8"/>
<rect x="626.43" y="696.4" width="7.1" height="49.1" fill="#f03750" stroke="#c42a48" stroke-width="0.8"/>
<rect x="641.44" y="689.5" width="7.1" height="56" fill="#f03750" stroke="#c42a48" stroke-width="0.8"/>
<rect x="656.46" y="633.4" width="7.1" height="112.1" fill="#53b250" stroke="#46a546" stroke-width="0.8"/>
<rect x="671.47" y="639.4" width="7.1" height="106.1" fill="#53b250" stroke="#46a546" stroke-width="0.8"/>
<rect x="686.48" y="624.6" width="7.1" height="120.9" fill="#53b250" stroke="#46a546" stroke-width="0.8"/>
<rect x="701.5" y="651.4" width="7.1" height="94.1" fill="#f03750" stroke="#c42a48" stroke-width="0.8"/>
<rect x="716.51" y="679.3" width="7.1" height="66.2" fill="#53b250" stroke="#46a546" stroke-width="0.8"/>
<rect x="731.52" y="684.4" width="7.1" height="61.1" fill="#f03750" stroke="#c42a48" stroke-width="0.8"/>
<rect x="746.54" y="687.5" width="7.1" height="58" fill="#f03750" stroke="#c42a48" stroke-width="0.8"/>
<rect x="761.55" y="694.4" width="7.1" height="51.1" fill="#53b250" stroke="#46a546" stroke-width="0.8"/>
<rect x="776.56" y="692.7" width="7.1" height="52.8" fill="#53b250" stroke="#14500f" stroke-width="1.0"/>
<rect x="791.57" y="699.5" width="7.1" height="46" fill="#f03750" stroke="#c42a48" stroke-width="0.8"/>
<rect x="806.59" y="706.3" width="7.1" height="39.2" fill="#53b250" stroke="#46a546" stroke-width="0.8"/>
<rect x="821.6" y="701.5" width="7.1" height="44" fill="#f03750" stroke="#c42a48" stroke-width="0.8"/>
<rect x="836.61" y="694.4" width="7.1" height="51.1" fill="#53b250" stroke="#46a546" stroke-width="0.8"/>
<rect x="851.63" y="679.3" width="7.1" height="66.2" fill="#f03750" stroke="#c42a48" stroke-width="0.8"/>
<rect x="866.64" y="702.3" width="7.1" height="43.2" fill="#53b250" stroke="#46a546" stroke-width="0.8"/>
<rect x="881.65" y="697.5" width="7.1" height="48" fill="#f03750" stroke="#c42a48" stroke-width="0.8"/>
<rect x="896.67" y="701.5" width="7.1" height="44" fill="#f03750" stroke="#c42a48" stroke-width="0.8"/>
<rect x="911.68" y="707.5" width="7.1" height="38" fill="#53b250" stroke="#46a546" stroke-width="0.8"/>
<rect x="926.69" y="687.8" width="7.1" height="57.7" fill="#53b250" stroke="#14500f" stroke-width="1.0"/>
<rect x="941.7" y="714.3" width="7.1" height="31.2" fill="#f03750" stroke="#c42a48" stroke-width="0.8"/>
<rect x="956.72" y="612.4" width="7.1" height="133.1" fill="#f03750" stroke="#c42a48" stroke-width="0.8"/>
<rect x="971.73" y="656.5" width="7.1" height="89" fill="#f03750" stroke="#c42a48" stroke-width="0.8"/>
<rect x="986.74" y="697.5" width="7.1" height="48" fill="#f03750" stroke="#c42a48" stroke-width="0.8"/>
<rect x="1001.76" y="672.4" width="7.1" height="73.1" fill="#f03750" stroke="#c42a48" stroke-width="0.8"/>
<rect x="1016.77" y="704.3" width="7.1" height="41.2" fill="#53b250" stroke="#46a546" stroke-width="0.8"/>
<rect x="1031.78" y="689.5" width="7.1" height="56" fill="#f03750" stroke="#c42a48" stroke-width="0.8"/>
<rect x="1046.8" y="693.5" width="7.1" height="52" fill="#f03750" stroke="#c42a48" stroke-width="0.8"/>
<rect x="1061.81" y="693.5" width="7.1" height="52" fill="#f03750" stroke="#c42a48" stroke-width="0.8"/>
<rect x="1076.82" y="679.6" width="7.1" height="65.9" fill="#f03750" stroke="#c42a48" stroke-width="0.8"/>
<rect x="1091.83" y="686.4" width="7.1" height="59.1" fill="#f03750" stroke="#c42a48" stroke-width="0.8"/>
<rect x="1106.85" y="686.4" width="7.1" height="59.1" fill="#53b250" stroke="#46a546" stroke-width="0.8"/>
<rect x="1121.86" y="692.4" width="7.1" height="53.1" fill="#f03750" stroke="#c42a48" stroke-width="0.8"/>
<rect x="1136.87" y="693.5" width="7.1" height="52" fill="#53b250" stroke="#46a546" stroke-width="0.8"/>
<rect x="1151.89" y="698.4" width="7.1" height="47.1" fill="#53b250" stroke="#46a546" stroke-width="0.8"/>
<rect x="1166.9" y="695.5" width="7.1" height="50" fill="#53b250" stroke="#46a546" stroke-width="0.8"/>
<rect x="1181.91" y="682.4" width="7.1" height="63.1" fill="#f03750" stroke="#c42a48" stroke-width="0.8"/>
<rect x="1196.92" y="694.4" width="7.1" height="51.1" fill="#f03750" stroke="#c42a48" stroke-width="0.8"/>
</g>
<g fill="none" stroke="#000" stroke-width="1.15">
<rect x="74.4" y="55.4" width="1126.2" height="503"/>
<rect x="74.4" y="575.5" width="1126.2" height="167.6"/>
</g>
<g stroke="#f0ecf2" stroke-width="0.85" stroke-opacity="0.8" stroke-dasharray="6.67,6.67" fill="none">
<line x1="74.4" y1="55.4" x2="1200.6" y2="55.4"/>
<line x1="74.4" y1="558.4" x2="74.4" y2="55.4"/>
</g>
<g stroke="#000" stroke-width="0.85">
<line x1="74.5" y1="558.4" x2="74.5" y2="554"/>
<line x1="74.5" y1="55.4" x2="74.5" y2="59.8"/>
<line x1="74.5" y1="743.1" x2="74.5" y2="738.7"/>
<line x1="74.5" y1="575.5" x2="74.5" y2="579.9"/>
<line x1="119.54" y1="558.4" x2="119.54" y2="554"/>
<line x1="119.54" y1="55.4" x2="119.54" y2="59.8"/>
<line x1="119.54" y1="743.1" x2="119.54" y2="738.7"/>
<line x1="119.54" y1="575.5" x2="119.54" y2="579.9"/>
<line x1="164.58" y1="558.4" x2="164.58" y2="554"/>
<line x1="164.58" y1="55.4" x2="164.58" y2="59.8"/>
<line x1="164.58" y1="743.1" x2="164.58" y2="738.7"/>
<line x1="164.58" y1="575.5" x2="164.58" y2="579.9"/>
<line x1="209.62" y1="558.4" x2="209.62" y2="554"/>
<line x1="209.62" y1="55.4" x2="209.62" y2="59.8"/>
<line x1="209.62" y1="743.1" x2="209.62" y2="738.7"/>
<line x1="209.62" y1="575.5" x2="209.62" y2="579.9"/>
<line x1="254.66" y1="558.4" x2="254.66" y2="554"/>
<line x1="254.66" y1="55.4" x2="254.66" y2="59.8"/>
<line x1="254.66" y1="743.1" x2="254.66" y2="738.7"/>
<line x1="254.66" y1="575.5" x2="254.66" y2="579.9"/>
<line x1="299.69" y1="558.4" x2="299.69" y2="554"/>
<line x1="299.69" y1="55.4" x2="299.69" y2="59.8"/>
<line x1="299.69" y1="743.1" x2="299.69" y2="738.7"/>
<line x1="299.69" y1="575.5" x2="299.69" y2="579.9"/>
<line x1="344.73" y1="558.4" x2="344.73" y2="554"/>
<line x1="344.73" y1="55.4" x2="344.73" y2="59.8"/>
<line x1="344.73" y1="743.1" x2="344.73" y2="738.7"/>
<line x1="344.73" y1="575.5" x2="344.73" y2="579.9"/>
<line x1="389.77" y1="558.4" x2="389.77" y2="554"/>
<line x1="389.77" y1="55.4" x2="389.77" y2="59.8"/>
<line x1="389.77" y1="743.1" x2="389.77" y2="738.7"/>
<line x1="389.77" y1="575.5" x2="389.77" y2="579.9"/>
<line x1="434.81" y1="558.4" x2="434.81" y2="554"/>
<line x1="434.81" y1="55.4" x2="434.81" y2="59.8"/>
<line x1="434.81" y1="743.1" x2="434.81" y2="738.7"/>
<line x1="434.81" y1="575.5" x2="434.81" y2="579.9"/>
<line x1="479.85" y1="558.4" x2="479.85" y2="554"/>
<line x1="479.85" y1="55.4" x2="479.85" y2="59.8"/>
<line x1="479.85" y1="743.1" x2="479.85" y2="738.7"/>
<line x1="479.85" y1="575.5" x2="479.85" y2="579.9"/>
<line x1="524.89" y1="558.4" x2="524.89" y2="554"/>
<line x1="524.89" y1="55.4" x2="524.89" y2="59.8"/>
<line x1="524.89" y1="743.1" x2="524.89" y2="738.7"/>
<line x1="524.89" y1="575.5" x2="524.89" y2="579.9"/>
<line x1="569.93" y1="558.4" x2="569.93" y2="554"/>
<line x1="569.93" y1="55.4" x2="569.93" y2="59.8"/>
<line x1="569.93" y1="743.1" x2="569.93" y2="738.7"/>
<line x1="569.93" y1="575.5" x2="569.93" y2="579.9"/>
<line x1="614.97" y1="558.4" x2="614.97" y2="554"/>
<line x1="614.97" y1="55.4" x2="614.97" y2="59.8"/>
<line x1="614.97" y1="743.1" x2="614.97" y2="738.7"/>
<line x1="614.97" y1="575.5" x2="614.97" y2="579.9"/>
<line x1="660.01" y1="558.4" x2="660.01" y2="554"/>
<line x1="660.01" y1="55.4" x2="660.01" y2="59.8"/>
<line x1="660.01" y1="743.1" x2="660.01" y2="738.7"/>
<line x1="660.01" y1="575.5" x2="660.01" y2="579.9"/>
<line x1="705.05" y1="558.4" x2="705.05" y2="554"/>
<line x1="705.05" y1="55.4" x2="705.05" y2="59.8"/>
<line x1="705.05" y1="743.1" x2="705.05" y2="738.7"/>
<line x1="705.05" y1="575.5" x2="705.05" y2="579.9"/>
<line x1="750.09" y1="558.4" x2="750.09" y2="554"/>
<line x1="750.09" y1="55.4" x2="750.09" y2="59.8"/>
<line x1="750.09" y1="743.1" x2="750.09" y2="738.7"/>
<line x1="750.09" y1="575.5" x2="750.09" y2="579.9"/>
<line x1="795.12" y1="558.4" x2="795.12" y2="554"/>
<line x1="795.12" y1="55.4" x2="795.12" y2="59.8"/>
<line x1="795.12" y1="743.1" x2="795.12" y2="738.7"/>
<line x1="795.12" y1="575.5" x2="795.12" y2="579.9"/>
<line x1="840.16" y1="558.4" x2="840.16" y2="554"/>
<line x1="840.16" y1="55.4" x2="840.16" y2="59.8"/>
<line x1="840.16" y1="743.1" x2="840.16" y2="738.7"/>
<line x1="840.16" y1="575.5" x2="840.16" y2="579.9"/>
<line x1="885.2" y1="558.4" x2="885.2" y2="554"/>
<line x1="885.2" y1="55.4" x2="885.2" y2="59.8"/>
<line x1="885.2" y1="743.1" x2="885.2" y2="738.7"/>
<line x1="885.2" y1="575.5" x2="885.2" y2="579.9"/>
<line x1="930.24" y1="558.4" x2="930.24" y2="554"/>
<line x1="930.24" y1="55.4" x2="930.24" y2="59.8"/>
<line x1="930.24" y1="743.1" x2="930.24" y2="738.7"/>
<line x1="930.24" y1="575.5" x2="930.24" y2="579.9"/>
<line x1="975.28" y1="558.4" x2="975.28" y2="554"/>
<line x1="975.28" y1="55.4" x2="975.28" y2="59.8"/>
<line x1="975.28" y1="743.1" x2="975.28" y2="738.7"/>
<line x1="975.28" y1="575.5" x2="975.28" y2="579.9"/>
<line x1="1020.32" y1="558.4" x2="1020.32" y2="554"/>
<line x1="1020.32" y1="55.4" x2="1020.32" y2="59.8"/>
<line x1="1020.32" y1="743.1" x2="1020.32" y2="738.7"/>
<line x1="1020.32" y1="575.5" x2="1020.32" y2="579.9"/>
<line x1="1065.36" y1="558.4" x2="1065.36" y2="554"/>
<line x1="1065.36" y1="55.4" x2="1065.36" y2="59.8"/>
<line x1="1065.36" y1="743.1" x2="1065.36" y2="738.7"/>
<line x1="1065.36" y1="575.5" x2="1065.36" y2="579.9"/>
<line x1="1110.4" y1="558.4" x2="1110.4" y2="554"/>
<line x1="1110.4" y1="55.4" x2="1110.4" y2="59.8"/>
<line x1="1110.4" y1="743.1" x2="1110.4" y2="738.7"/>
<line x1="1110.4" y1="575.5" x2="1110.4" y2="579.9"/>
<line x1="1155.44" y1="558.4" x2="1155.44" y2="554"/>
<line x1="1155.44" y1="55.4" x2="1155.44" y2="59.8"/>
<line x1="1155.44" y1="743.1" x2="1155.44" y2="738.7"/>
<line x1="1155.44" y1="575.5" x2="1155.44" y2="579.9"/>
<line x1="1200.47" y1="558.4" x2="1200.47" y2="554"/>
<line x1="1200.47" y1="55.4" x2="1200.47" y2="59.8"/>
<line x1="1200.47" y1="743.1" x2="1200.47" y2="738.7"/>
<line x1="1200.47" y1="575.5" x2="1200.47" y2="579.9"/>
<line x1="74.4" y1="55.4" x2="78.8" y2="55.4"/>
<line x1="1200.6" y1="55.4" x2="1196.2" y2="55.4"/>
<line x1="74.4" y1="139.23" x2="78.8" y2="139.23"/>
<line x1="1200.6" y1="139.23" x2="1196.2" y2="139.23"/>
<line x1="74.4" y1="223.07" x2="78.8" y2="223.07"/>
<line x1="1200.6" y1="223.07" x2="1196.2" y2="223.07"/>
<line x1="74.4" y1="306.9" x2="78.8" y2="306.9"/>
<line x1="1200.6" y1="306.9" x2="1196.2" y2="306.9"/>
<line x1="74.4" y1="390.73" x2="78.8" y2="390.73"/>
<line x1="1200.6" y1="390.73" x2="1196.2" y2="390.73"/>
<line x1="74.4" y1="474.57" x2="78.8" y2="474.57"/>
<line x1="1200.6" y1="474.57" x2="1196.2" y2="474.57"/>
<line x1="74.4" y1="558.4" x2="78.8" y2="558.4"/>
<line x1="1200.6" y1="558.4" x2="1196.2" y2="558.4"/>
<line x1="74.4" y1="743.1" x2="78.8" y2="743.1"/>
<line x1="1200.6" y1="743.1" x2="1196.2" y2="743.1"/>
<line x1="74.4" y1="715.17" x2="78.8" y2="715.17"/>
<line x1="1200.6" y1="715.17" x2="1196.2" y2="715.17"/>
<line x1="74.4" y1="687.23" x2="78.8" y2="687.23"/>
<line x1="1200.6" y1="687.23" x2="1196.2" y2="687.23"/>
<line x1="74.4" y1="659.3" x2="78.8" y2="659.3"/>
<line x1="1200.6" y1="659.3" x2="1196.2" y2="659.3"/>
<line x1="74.4" y1="631.37" x2="78.8" y2="631.37"/>
<line x1="1200.6" y1="631.37" x2="1196.2" y2="631.37"/>
<line x1="74.4" y1="603.43" x2="78.8" y2="603.43"/>
<line x1="1200.6" y1="603.43" x2="1196.2" y2="603.43"/>
<line x1="74.4" y1="575.5" x2="78.8" y2="575.5"/>
<line x1="1200.6" y1="575.5" x2="1196.2" y2="575.5"/>
</g>
<g font-size="13.33">
<text transform="translate(70,58.6) scale(1.015,0.9)" text-anchor="end">310.00</text>
<text transform="translate(70,142.43) scale(1.015,0.9)" text-anchor="end">300.00</text>
<text transform="translate(70,226.27) scale(1.015,0.9)" text-anchor="end">290.00</text>
<text transform="translate(70,310.1) scale(1.015,0.9)" text-anchor="end">280.00</text>
<text transform="translate(70,393.93) scale(1.015,0.9)" text-anchor="end">270.00</text>
<text transform="translate(70,477.77) scale(1.015,0.9)" text-anchor="end">260.00</text>
<text transform="translate(70,561.6) scale(1.015,0.9)" text-anchor="end">250.00</text>
<text transform="translate(70,747) scale(1.015,0.9)" text-anchor="end">0</text>
<text transform="translate(70,719.07) scale(1.015,0.9)" text-anchor="end">200 K</text>
<text transform="translate(70,691.13) scale(1.015,0.9)" text-anchor="end">400 K</text>
<text transform="translate(70,663.2) scale(1.015,0.9)" text-anchor="end">600 K</text>
<text transform="translate(70,635.27) scale(1.015,0.9)" text-anchor="end">800 K</text>
<text transform="translate(70,607.33) scale(1.015,0.9)" text-anchor="end">1 M</text>
<text transform="translate(70,579.4) scale(1.015,0.9)" text-anchor="end">1 M</text>
<text transform="translate(20.6,660.5) rotate(-90) scale(1.015,0.9)" text-anchor="middle">Volume</text>
<text transform="translate(71.6,756.5) rotate(-30) scale(0.98,0.9)" text-anchor="end">04-06-25</text>
<text transform="translate(116.64,756.5) rotate(-30) scale(0.98,0.9)" text-anchor="end">09-06-25</text>
<text transform="translate(161.68,756.5) rotate(-30) scale(0.98,0.9)" text-anchor="end">12-06-25</text>
<text transform="translate(206.72,756.5) rotate(-30) scale(0.98,0.9)" text-anchor="end">17-06-25</text>
<text transform="translate(251.76,756.5) rotate(-30) scale(0.98,0.9)" text-anchor="end">20-06-25</text>
<text transform="translate(296.8,756.5) rotate(-30) scale(0.98,0.9)" text-anchor="end">25-06-25</text>
<text transform="translate(341.83,756.5) rotate(-30) scale(0.98,0.9)" text-anchor="end">30-06-25</text>
<text transform="translate(386.87,756.5) rotate(-30) scale(0.98,0.9)" text-anchor="end">03-07-25</text>
<text transform="translate(431.91,756.5) rotate(-30) scale(0.98,0.9)" text-anchor="end">08-07-25</text>
<text transform="translate(476.95,756.5) rotate(-30) scale(0.98,0.9)" text-anchor="end">11-07-25</text>
<text transform="translate(521.99,756.5) rotate(-30) scale(0.98,0.9)" text-anchor="end">16-07-25</text>
<text transform="translate(567.03,756.5) rotate(-30) scale(0.98,0.9)" text-anchor="end">21-07-25</text>
<text transform="translate(612.07,756.5) rotate(-30) scale(0.98,0.9)" text-anchor="end">24-07-25</text>
<text transform="translate(657.11,756.5) rotate(-30) scale(0.98,0.9)" text-anchor="end">29-07-25</text>
<text transform="translate(702.15,756.5) rotate(-30) scale(0.98,0.9)" text-anchor="end">01-08-25</text>
<text transform="translate(747.19,756.5) rotate(-30) scale(0.98,0.9)" text-anchor="end">06-08-25</text>
<text transform="translate(792.22,756.5) rotate(-30) scale(0.98,0.9)" text-anchor="end">11-08-25</text>
<text transform="translate(837.26,756.5) rotate(-30) scale(0.98,0.9)" text-anchor="end">14-08-25</text>
<text transform="translate(882.3,756.5) rotate(-30) scale(0.98,0.9)" text-anchor="end">19-08-25</text>
<text transform="translate(927.34,756.5) rotate(-30) scale(0.98,0.9)" text-anchor="end">22-08-25</text>
<text transform="translate(972.38,756.5) rotate(-30) scale(0.98,0.9)" text-anchor="end">27-08-25</text>
<text transform="translate(1017.42,756.5) rotate(-30) scale(0.98,0.9)" text-anchor="end">01-09-25</text>
<text transform="translate(1062.46,756.5) rotate(-30) scale(0.98,0.9)" text-anchor="end">04-09-25</text>
<text transform="translate(1107.5,756.5) rotate(-30) scale(0.98,0.9)" text-anchor="end">09-09-25</text>
<text transform="translate(1152.54,756.5) rotate(-30) scale(0.98,0.9)" text-anchor="end">12-09-25</text>
<text transform="translate(1197.57,756.5) rotate(-30) scale(0.98,0.9)" text-anchor="end">17-09-25</text>
</g>
<text x="636.6" y="49" font-size="16" text-anchor="middle">SAFRAN - date start: 04-06-2025 end: 17-09-2025 - slope: 0.392547 - timeframes: 9 26 52 96 - itv: 1d - price: 279.80</text>
</svg></body></html>
